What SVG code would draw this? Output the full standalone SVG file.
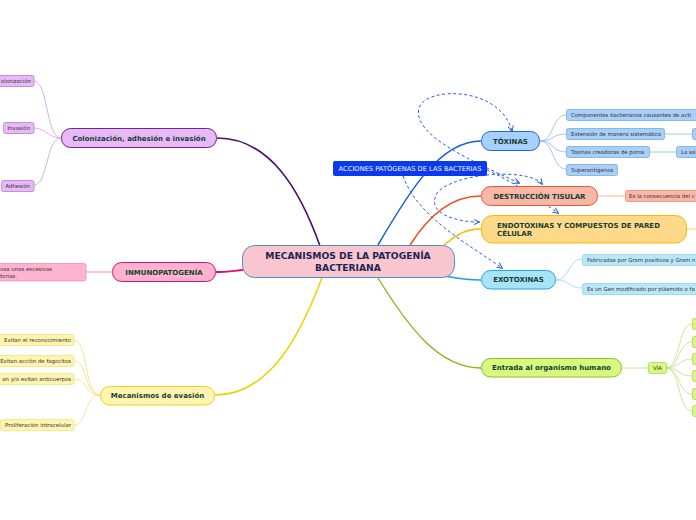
<svg xmlns="http://www.w3.org/2000/svg" width="696" height="520" viewBox="0 0 696 520">
<defs>
<marker id="ah" viewBox="0 0 8 8" refX="7" refY="4" markerWidth="6" markerHeight="6" orient="auto-start-reverse" markerUnits="userSpaceOnUse">
<path d="M0,0.5 L8,4 L0,7.5" fill="none" stroke="#2a5ae8" stroke-width="1.3"/>
</marker>
<style>
text{font-family:"DejaVu Sans","Liberation Sans",sans-serif}
.t1{font-size:7px;font-weight:bold;fill:#173d30}
.t0{font-size:9.2px;font-weight:bold;fill:#1c2552}
.t2{font-size:5.4px;fill:#333}
.rel{fill:none;stroke:#2a5ae8;stroke-width:1;stroke-dasharray:3,2.5}
.c{fill:none}
</style>
</defs>
<rect width="696" height="520" fill="#fff"/>
<g id="connectors">
<path class="c" d="M320,246 C300,190 270,138 217,138" stroke="#4b0f6b" stroke-width="1.6"/>
<path class="c" d="M243,270 C232,271 226,272 216,272" stroke="#e0106a" stroke-width="1.8"/>
<path class="c" d="M322,278 C302,330 272,395 215,395" stroke="#f0d000" stroke-width="1.5"/>
<path class="c" d="M378,245 C410,190 440,141 481,141" stroke="#1060d8" stroke-width="1.5"/>
<path class="c" d="M410,245 C430,214 452,196 481,196" stroke="#f05020" stroke-width="1.5"/>
<path class="c" d="M443,246 C456,235 465,229 481,229" stroke="#f8b800" stroke-width="1.5"/>
<path class="c" d="M445,276 C460,279 470,280 481,280" stroke="#20a0e0" stroke-width="1.5"/>
<path class="c" d="M378,278 C410,330 440,368 481,368" stroke="#80b810" stroke-width="1.3"/>
<g stroke="#c8a0d8" stroke-width="0.8" class="c">
<path d="M61,138 C46,138 48,81 34,81"/>
<path d="M61,138 C48,138 46,128 34,128"/>
<path d="M61,138 C46,138 48,185 34,185"/>
</g>
<path class="c" d="M112,272 L86,272" stroke="#f080b0" stroke-width="0.9"/>
<g stroke="#f0e080" stroke-width="0.8" class="c">
<path d="M100,395 C84,395 88,340 74,340"/>
<path d="M100,395 C84,395 88,361 74,361"/>
<path d="M100,395 C84,395 88,379 74,379"/>
<path d="M100,395 C84,395 88,425 74,425"/>
</g>
<g stroke="#8ab8f0" stroke-width="0.8" class="c">
<path d="M540,141 C554,141 552,115 566,115"/>
<path d="M540,141 C554,141 552,134 566,134"/>
<path d="M540,141 C554,141 552,152 566,152"/>
<path d="M540,141 C554,141 552,169 566,169"/>
<path d="M665,134 L692,134"/>
<path d="M650,152 L676,152"/>
</g>
<path class="c" d="M598,196 L625,196" stroke="#f8a898" stroke-width="0.9"/>
<path class="c" d="M687,229 L696,229" stroke="#f8c840" stroke-width="0.9"/>
<g stroke="#90d8f0" stroke-width="0.8" class="c">
<path d="M556,280 C570,280 568,259 582,259"/>
<path d="M556,280 C570,280 568,288 582,288"/>
</g>
<path class="c" d="M622,368 L648,368" stroke="#c8e890" stroke-width="0.9"/>
<g stroke="#c0e080" stroke-width="0.8" class="c">
<path d="M666,368 C680,368 678,324 692,324"/>
<path d="M666,368 C680,368 678,342 692,342"/>
<path d="M666,368 C680,368 678,359 692,359"/>
<path d="M666,368 C680,368 678,376 692,376"/>
<path d="M666,368 C680,368 678,394 692,394"/>
<path d="M666,368 C680,368 678,411 692,411"/>
</g>
<path class="rel" d="M519,183 C470,160 412,135 419,108 C426,86 500,86 512,131" marker-start="url(#ah)" marker-end="url(#ah)"/>
<path class="rel" d="M403,176 C418,218 470,245 502,268" marker-end="url(#ah)"/>
<path class="rel" d="M542,184 C530,168 455,172 437,193 C425,214 458,222 479,222" marker-start="url(#ah)" marker-end="url(#ah)"/>
<path class="rel" d="M487,170 C510,180 540,200 558,213" marker-end="url(#ah)"/>
</g>
<g id="acciones">
<rect x="333" y="161" width="154" height="15" rx="2" fill="#0a3af0"/>
<text x="410" y="171" text-anchor="middle" style="font-size:6.7px;fill:#fff">ACCIONES PATÓGENAS DE LAS BACTERIAS</text>
</g>
<g id="central">
<rect x="242.5" y="245.5" width="212" height="32" rx="12" fill="#f9c6d0" stroke="#4a90c8" stroke-width="1"/>
<text class="t0" x="348" y="259" text-anchor="middle">MECANISMOS DE LA PATOGENÍA</text>
<text class="t0" x="348" y="270.5" text-anchor="middle">BACTERIANA</text>
</g>
<g id="colonizacion">
<rect x="61.5" y="128.5" width="155" height="19" rx="9" fill="#e8b8f8" stroke="#6b2a7a" stroke-width="1"/>
<text class="t1" x="139" y="140.5" text-anchor="middle">Colonización, adhesión e invasión</text>
</g>
<g id="col-1"><rect x="-20" y="75.5" width="54" height="11" rx="2" fill="#e8b8f8" stroke="#b070c0" stroke-width="0.7"/><text class="t2" x="31" y="82.9" text-anchor="end">olonización</text></g>
<g id="col-2"><rect x="3.5" y="122.5" width="30.5" height="11" rx="2" fill="#e8b8f8" stroke="#b070c0" stroke-width="0.7"/><text class="t2" x="18.8" y="129.9" text-anchor="middle">Invasión</text></g>
<g id="col-3"><rect x="1.5" y="180.5" width="32.5" height="11" rx="2" fill="#e8b8f8" stroke="#b070c0" stroke-width="0.7"/><text class="t2" x="17.8" y="187.9" text-anchor="middle">Adhesión</text></g>
<g id="inmuno">
<rect x="112.5" y="262.5" width="103" height="19" rx="9" fill="#ffb3d1" stroke="#e0106a" stroke-width="1"/>
<text class="t1" x="164" y="274.5" text-anchor="middle">INMUNOPATOGENÍA</text>
</g>
<g id="inmuno-1"><rect x="-20" y="263.5" width="106" height="17.5" rx="2" fill="#ffb3d1" stroke="#f080b0" stroke-width="0.7"/><text class="t2" x="0" y="270.5">usa unas excesivas</text><text class="t2" x="0" y="277.5">torias.</text></g>
<g id="evasion">
<rect x="100.5" y="386.5" width="114" height="18.5" rx="9" fill="#fff5b0" stroke="#f0d020" stroke-width="1"/>
<text class="t1" x="157.5" y="398" text-anchor="middle">Mecanismos de evasión</text>
</g>
<g id="ev-1"><rect x="-3" y="334.5" width="77" height="11" rx="2" fill="#fff5b0" stroke="#f0e070" stroke-width="0.7"/><text class="t2" x="71" y="341.9" text-anchor="end">Evitan el reconocimiento</text></g>
<g id="ev-2"><rect x="-5" y="355.5" width="79" height="11" rx="2" fill="#fff5b0" stroke="#f0e070" stroke-width="0.7"/><text class="t2" x="71" y="362.9" text-anchor="end">Evitan acción de fagocitos</text></g>
<g id="ev-3"><rect x="-20" y="373.5" width="94" height="11" rx="2" fill="#fff5b0" stroke="#f0e070" stroke-width="0.7"/><text class="t2" x="71" y="380.9" text-anchor="end">an y/o evitan anticuerpos</text></g>
<g id="ev-4"><rect x="0.5" y="419.5" width="73.5" height="11" rx="2" fill="#fff5b0" stroke="#f0e070" stroke-width="0.7"/><text class="t2" x="71" y="426.9" text-anchor="end">Proliferación intracelular</text></g>
<g id="toxinas">
<rect x="481.5" y="131.5" width="58" height="19" rx="9" fill="#a8d0ff" stroke="#1a6ad8" stroke-width="1"/>
<text class="t1" x="510.5" y="143.5" text-anchor="middle">TÓXINAS</text>
</g>
<g id="tox-1"><rect x="566.5" y="109.5" width="140" height="11" rx="2" fill="#a8cff8" stroke="#6aa0e0" stroke-width="0.7"/><text class="t2" x="571" y="116.9">Componentes bacterianos causantes de acti</text></g>
<g id="tox-2"><rect x="566.5" y="128.5" width="98" height="11" rx="2" fill="#a8cff8" stroke="#6aa0e0" stroke-width="0.7"/><text class="t2" x="571" y="135.9">Extensión de manera sistemática</text></g>
<g id="tox-2a"><rect x="692.5" y="128.5" width="20" height="11" rx="2" fill="#a8cff8" stroke="#6aa0e0" stroke-width="0.7"/></g>
<g id="tox-3"><rect x="566.5" y="146.5" width="83" height="11" rx="2" fill="#a8cff8" stroke="#6aa0e0" stroke-width="0.7"/><text class="t2" x="571" y="153.9">Toxinas creadoras de poros</text></g>
<g id="tox-3a"><rect x="676.5" y="146.5" width="30" height="11" rx="2" fill="#a8cff8" stroke="#6aa0e0" stroke-width="0.7"/><text class="t2" x="681" y="153.9">La sal</text></g>
<g id="tox-4"><rect x="566.5" y="164.5" width="51" height="11" rx="2" fill="#a8cff8" stroke="#6aa0e0" stroke-width="0.7"/><text class="t2" x="571" y="171.9">Superantígenos</text></g>
<g id="destruccion">
<rect x="481.5" y="186.5" width="116" height="19" rx="9" fill="#f8b8a8" stroke="#e85a30" stroke-width="1"/>
<text class="t1" x="539.5" y="198.5" text-anchor="middle">DESTRUCCIÓN TISULAR</text>
</g>
<g id="des-1"><rect x="625.5" y="190.5" width="80" height="11" rx="2" fill="#f8b8a8" stroke="#f08060" stroke-width="0.7"/><text class="t2" x="629" y="197.9">Es la consecuencia del c</text></g>
<g id="endotoxinas">
<rect x="481.5" y="215.5" width="205" height="27.5" rx="11" fill="#ffd98a" stroke="#f8b800" stroke-width="1"/>
<text class="t1" x="497" y="227.5">ENDOTOXINAS Y COMPUESTOS DE PARED</text>
<text class="t1" x="497" y="235.8">CÉLULAR</text>
</g>
<g id="exotoxinas">
<rect x="481.5" y="270.5" width="74" height="18.5" rx="9" fill="#a8e4f8" stroke="#20a8e0" stroke-width="1"/>
<text class="t1" x="518.5" y="282" text-anchor="middle">EXOTOXINAS</text>
</g>
<g id="exo-1"><rect x="582.5" y="254.5" width="130" height="11" rx="2" fill="#b8e8f8" stroke="#80d0f0" stroke-width="0.7"/><text class="t2" x="587" y="261.9">Fabricadas por Gram positivos y Gram n</text></g>
<g id="exo-2"><rect x="582.5" y="283.5" width="130" height="11" rx="2" fill="#b8e8f8" stroke="#80d0f0" stroke-width="0.7"/><text class="t2" x="587" y="290.9">Es un Gen modificado por plásmido o fa</text></g>
<g id="entrada">
<rect x="481.5" y="358.5" width="140" height="18.5" rx="9" fill="#d8f880" stroke="#8ac020" stroke-width="1"/>
<text class="t1" x="551.5" y="370" text-anchor="middle">Entrada al organismo humano</text>
</g>
<g id="via"><rect x="648.5" y="362.5" width="18" height="11" rx="2" fill="#d8f880" stroke="#a0d040" stroke-width="0.7"/><text class="t2" x="657.5" y="369.9" text-anchor="middle">VÍA</text></g>
<g id="via-children" fill="#d8f880" stroke="#a0d040" stroke-width="0.7">
<rect x="692.5" y="318.5" width="20" height="11" rx="2"/>
<rect x="692.5" y="336.5" width="20" height="11" rx="2"/>
<rect x="692.5" y="353.5" width="20" height="11" rx="2"/>
<rect x="692.5" y="370.5" width="20" height="11" rx="2"/>
<rect x="692.5" y="388.5" width="20" height="11" rx="2"/>
<rect x="692.5" y="405.5" width="20" height="11" rx="2"/>
</g>
</svg>
